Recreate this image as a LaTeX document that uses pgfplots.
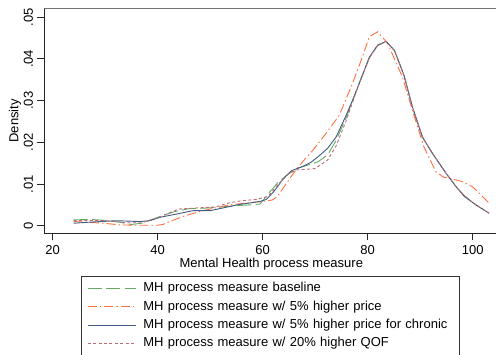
\documentclass[border=0pt]{standalone}
\usepackage{fontspec}
\setmainfont{Liberation Sans}
\usepackage{pgfplots}
\pgfplotsset{compat=1.18}

\definecolor{cbase}{RGB}{100,172,100}
\definecolor{cprice}{RGB}{255,112,64}
\definecolor{cchron}{RGB}{64,92,132}
\definecolor{cqof}{RGB}{192,106,118}

\begin{document}
\begin{tikzpicture}[font=\fontsize{13pt}{15.6pt}\selectfont]
\begin{axis}[
  scale only axis,
  width=451.7pt, height=225pt,
  at={(44.3pt,120.7pt)}, anchor=south west,
  xmin=18.42, xmax=104.43,
  ymin=-0.00182, ymax=0.05213,
  scaled y ticks=false, scaled x ticks=false,
  axis x line*=bottom, axis y line*=left,
  axis line style={line width=0.8pt, color=black!85},
  tick style={line width=0.8pt, color=black!85},
  tick align=outside, major tick length=7pt,
  xtick={20,40,60,80,100},
  xticklabels={20,40,60,80,100},
  ytick={0,0.01,0.02,0.03,0.04,0.05},
  yticklabels={0,.01,.02,.03,.04,.05},
  yticklabel style={rotate=90, anchor=south, inner sep=0pt},
  xticklabel style={anchor=north, inner sep=0pt},
  yticklabel shift=4pt,
  xticklabel shift=4.5pt,
  xlabel={Mental Health process measure},
  ylabel={Density},
  xlabel style={at={(axis description cs:0.5025,-0.1498)}, anchor=base},
  ylabel style={at={(axis description cs:-0.0649,0.5)}, anchor=center},
  legend style={
    at={(axis description cs:0.0812,-0.1898)}, anchor=north west,
    draw=black!80, line width=0.8pt, inner ysep=3pt, inner xsep=6pt,
    nodes={text height=9.5pt, text depth=2.8pt, inner sep=3pt},
    column sep=4pt, row sep=0pt,
  },
  legend cell align=left,
  legend image code/.code={\draw[#1] (0pt,0pt) -- (48pt,0pt);},
  /tikz/every even column/.append style={text width=307pt},
]
% kernel density, baseline
\addplot[cbase, line width=0.9pt, dash pattern=on 14pt off 4.5pt] coordinates {
(24,.0014) (27,.0015) (30,.0013) (32.5,.0009) (35,.0003) (37,.0006)
(40,.0020) (43,.0033) (46,.0041) (49,.0042) (52,.0045) (55,.0048)
(57.5,.0050) (59.5,.0052) (61.3,.0080) (63,.0105) (65,.0125) (66.5,.0137)
(68.5,.0145) (70.5,.0153) (72.4,.0170) (74,.0205) (76,.0262) (78,.0330)
(80.3,.0402) (81.9,.0432) (83.5,.0442) (85.1,.0420) (86.9,.0361) (88.5,.0285)
(90.4,.0213) (92.3,.0174) (94.9,.0126) (96.8,.0094) (98.4,.0072) (100.6,.0050)
(103.1,.0030)};
\addlegendentry{MH process measure baseline}
% 5% higher price
\addplot[cprice, line width=0.9pt, dash pattern=on 9pt off 3pt on 1.5pt off 3pt] coordinates {
(24,.0010) (27,.0008) (29.6,.0006) (32.8,.0002) (36.6,.0001) (39.8,.0001)
(41,.0003) (42.3,.0010) (44.8,.0022) (47.4,.0032) (50,.0040) (53.7,.0050)
(56,.0053) (58,.0056) (60,.0058) (61.9,.0062) (62.8,.0070) (64.5,.0101)
(66,.0128) (67.5,.0152) (69.5,.0180) (72.1,.0222) (74.6,.0265) (77.1,.0341)
(79,.0405) (80.3,.0453) (81.9,.0465) (83.8,.0437) (86.6,.0357) (88.5,.0277)
(90.7,.0189) (93,.0129) (94.5,.0116) (95.5,.0114) (98,.0106) (99.9,.0094)
(101.5,.0075) (103.1,.0054)};
\addlegendentry{MH process measure w/ 5\% higher price}
% 5% higher price for chronic
\addplot[cchron, line width=0.9pt] coordinates {
(24,.0006) (27.7,.0009) (32.2,.0012) (36.6,.0010) (38.5,.0012) (40.4,.0020)
(43.6,.0028) (46.7,.0036) (50,.0036) (53.7,.0046) (55.6,.0051) (59.4,.0058)
(60.7,.0063) (62,.0080) (64.1,.0115) (65.5,.0132) (67.6,.0142) (69.2,.0152)
(70.8,.0168) (72.4,.0186) (74,.0213) (75.9,.0265) (77.4,.0309) (80.3,.0404)
(81.9,.0433) (83.5,.0442) (85.1,.0420) (86.9,.0361) (88.5,.0285) (90.4,.0213)
(92.3,.0174) (94.9,.0126) (96.8,.0094) (98.4,.0070) (100.6,.0050) (103.1,.0030)};
\addlegendentry{MH process measure w/ 5\% higher price for chronic}
% 20% higher QOF
\addplot[cqof, line width=0.9pt, dash pattern=on 3pt off 2.4pt] coordinates {
(24,.0012) (27,.0013) (30,.0012) (34,.0007) (37,.0007) (40,.0019)
(44,.0040) (48,.0043) (51,.0045) (53.7,.0055) (56,.0060) (58.8,.0063)
(61,.0070) (63,.0100) (65,.0125) (66.5,.0134) (68,.0135) (70,.0137)
(72.4,.0158) (74,.0192) (76,.0255) (78,.0328) (80.3,.0402) (81.9,.0432)
(83.5,.0442) (85.1,.0420) (86.9,.0361) (88.5,.0285) (90.4,.0213) (92.3,.0174)
(94.9,.0126) (96.8,.0094) (98.4,.0072) (100.6,.0050) (103.1,.0030)};
\addlegendentry{MH process measure w/ 20\% higher QOF}
% upper border of the plot region
\draw[black!55, line width=1pt] (rel axis cs:0,1) -- (rel axis cs:1,1);
\end{axis}
\pgfresetboundingbox
\useasboundingbox (0pt,0pt) rectangle (496pt,354pt);
\end{tikzpicture}
\end{document}
